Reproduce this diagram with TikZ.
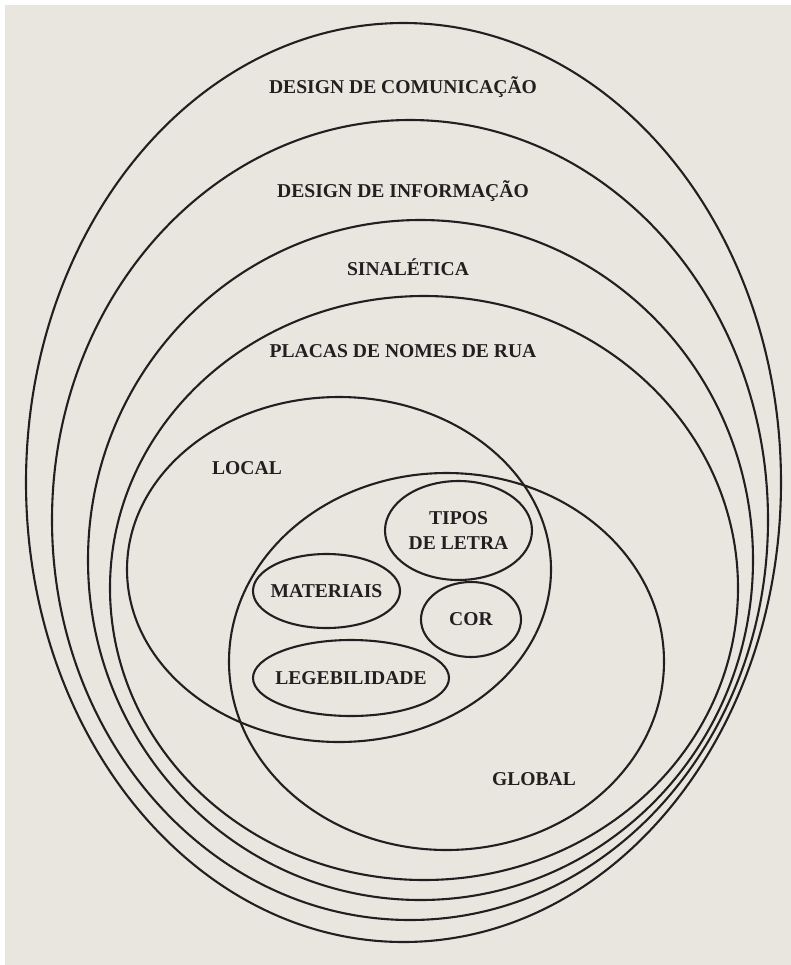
\documentclass[tikz,border=0pt]{standalone}
\usepackage{fontspec}
\setmainfont{Liberation Serif}
\usetikzlibrary{shapes.geometric}
\definecolor{paper}{HTML}{E9E6E0}
\definecolor{ink}{HTML}{231F20}
\begin{document}
\begin{tikzpicture}[x=0.5pt,y=-0.5pt,
		ring/.style={ellipse,draw=ink,line width=1.05pt,inner sep=0pt},
		tag/.style={text=ink,font=\bfseries\fontsize{9.8}{12.5}\selectfont,align=center,inner sep=0pt}]
		\useasboundingbox (0,0) rectangle (791,965);
		\fill[paper] (5,5) rectangle (791,965);

		\node[ring,minimum width=377.5pt,minimum height=459.5pt] (comm)   at (403.5,482.5) {};
		\node[ring,minimum width=358pt,minimum height=400pt]     (info)   at (410,520)     {};
		\node[ring,minimum width=332.5pt,minimum height=340pt]   (sinal)  at (420.5,560)   {};
		\node[ring,minimum width=314pt,minimum height=292pt]     (placas) at (424,588)     {};
		\node[ring,minimum width=212pt,minimum height=172.5pt]   (local)  at (339,569.5)   {};
		\node[ring,minimum width=217.5pt,minimum height=188.5pt] (global) at (446.5,661.5) {};
		\node[ring,minimum width=73.5pt,minimum height=49.5pt]   (tipos)  at (458.5,530.5) {};
		\node[ring,minimum width=73.5pt,minimum height=37pt]     (mat)    at (326.5,591)   {};
		\node[ring,minimum width=50pt,minimum height=37.5pt]     (cor)    at (471,619.5)   {};
		\node[ring,minimum width=98pt,minimum height=38pt]       (leg)    at (351,678)     {};

		\node[tag,anchor=base] (commtag)   at (403,93)  {DESIGN DE COMUNICAÇÃO};
		\node[tag,anchor=base] (infotag)   at (403,197) {DESIGN DE INFORMAÇÃO};
		\node[tag,anchor=base] (sinaltag)  at (408,275) {SINALÉTICA};
		\node[tag,anchor=base] (placastag) at (403,357) {PLACAS DE NOMES DE RUA};
		\node[tag,anchor=base] (localtag)  at (247,474) {LOCAL};
		\node[tag,anchor=base] (globaltag) at (534,785) {GLOBAL};
		\node[tag] (tipostag) at (tipos) {TIPOS\\DE LETRA};
		\node[tag] (mattag)   at (mat)   {MATERIAIS};
		\node[tag] (cortag)   at (cor)   {COR};
		\node[tag] (legtag)   at (leg)   {LEGEBILIDADE};
\end{tikzpicture}
\end{document}
